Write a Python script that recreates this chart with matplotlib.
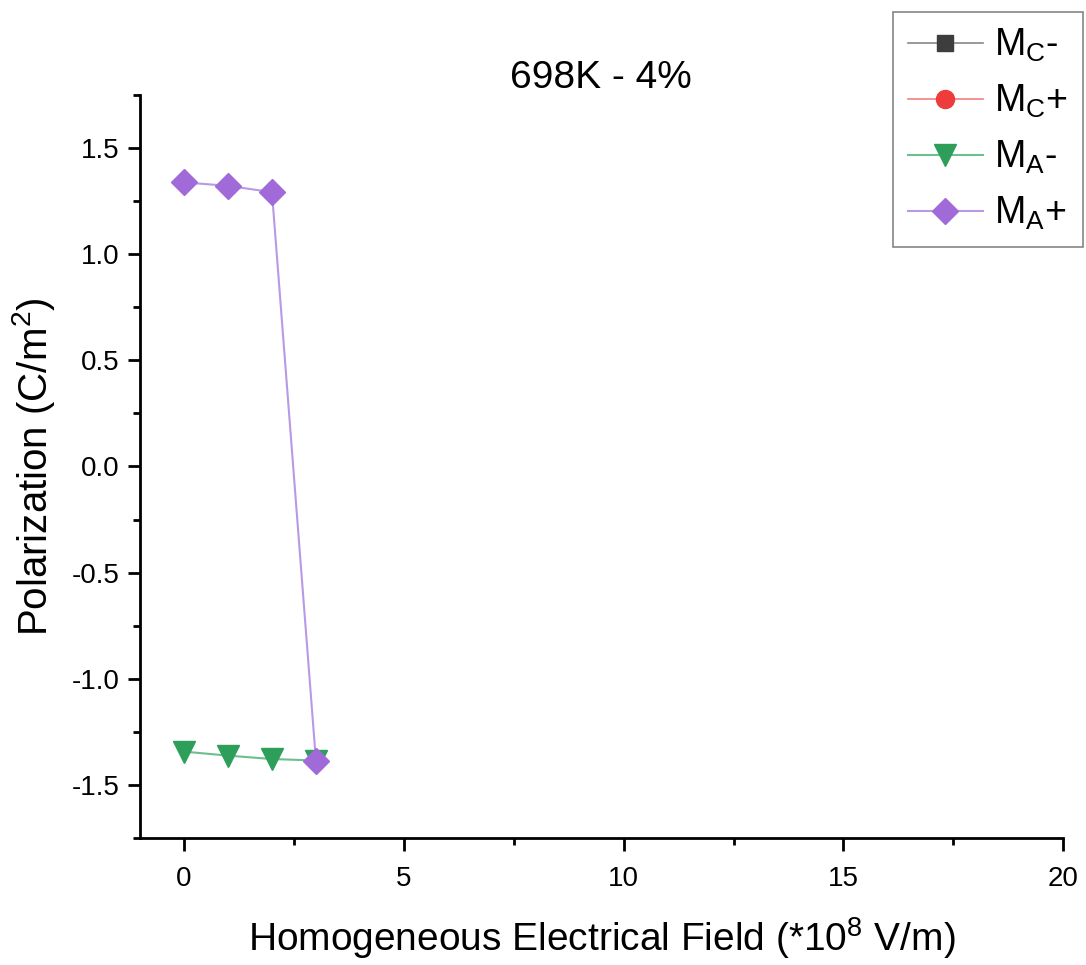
import matplotlib.pyplot as plt
from matplotlib.ticker import MultipleLocator

plt.rcParams['font.family'] = ['Liberation Sans', 'DejaVu Sans']

# data
field = [0, 1, 2, 3]
mc_minus_x, mc_minus_y = [], []
mc_plus_x, mc_plus_y = [], []
ma_minus = [-1.343, -1.362, -1.378, -1.385]
ma_plus = [1.338, 1.322, 1.292, -1.385]

fig = plt.figure(figsize=(10.86, 9.65), dpi=100)
ax = fig.add_axes([0.129, 0.1316, 0.85, 0.77])

ax.plot(mc_minus_x, mc_minus_y, color='#888888', lw=1.2, marker='s', ms=11,
        mfc='#3d3d3d', mec='#3d3d3d', label=r'M$_\mathregular{C}$-')
ax.plot(mc_plus_x, mc_plus_y, color='#f08080', lw=1.2, marker='o', ms=13,
        mfc='#ee3b3b', mec='#ee3b3b', label=r'M$_\mathregular{C}$+')
ax.plot(field, ma_minus, color='#6cc08e', lw=1.5, marker='v', ms=16,
        mfc='#2e9e5b', mec='#2e9e5b', label=r'M$_\mathregular{A}$-')
ax.plot(field, ma_plus, color='#b899e6', lw=1.5, marker='D', ms=13,
        mfc='#a06ad8', mec='#a06ad8', label=r'M$_\mathregular{A}$+')

ax.set_xlim(-1, 20)
ax.set_ylim(-1.75, 1.75)
ax.xaxis.set_major_locator(MultipleLocator(5))
ax.xaxis.set_minor_locator(MultipleLocator(2.5))
ax.yaxis.set_major_locator(MultipleLocator(0.5))
ax.yaxis.set_minor_locator(MultipleLocator(0.25))
ax.yaxis.set_major_formatter(plt.FuncFormatter(lambda v, p: f'{v:.1f}'))

for side in ['top', 'right']:
    ax.spines[side].set_visible(False)
for side in ['left', 'bottom']:
    ax.spines[side].set_linewidth(2)
ax.tick_params(which='major', length=9, width=2, labelsize=20, pad=6, direction='out')
ax.tick_params(axis='x', which='major', pad=11)
ax.tick_params(which='minor', length=5, width=2, direction='out')

ax.set_xlabel(r'Homogeneous Electrical Field (*10$^\mathregular{8}$ V/m)', fontsize=28, labelpad=17)
ax.set_ylabel(r'Polarization (C/m$^\mathregular{2}$)', fontsize=29, labelpad=10)
fig.text(0.553, 0.919, '698K - 4%', fontsize=28, ha='center', va='center')

leg = fig.legend(loc='upper right', bbox_to_anchor=(0.997, 0.9876), fontsize=27,
                 frameon=True, fancybox=False, edgecolor='#666666',
                 handlelength=2.0, borderpad=0.4, labelspacing=0.5,
                 handletextpad=0.3, borderaxespad=0)
leg.get_frame().set_linewidth(1.2)

fig.savefig('out.png', dpi=100)
